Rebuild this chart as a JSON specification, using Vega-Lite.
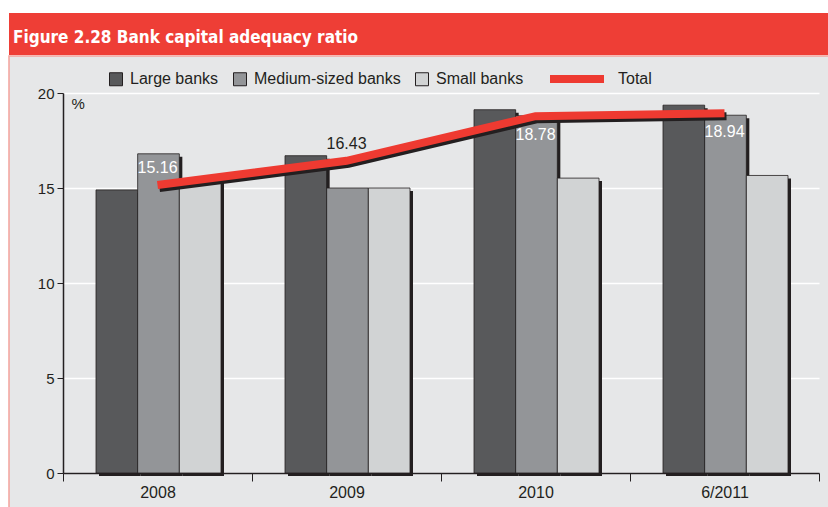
{
  "$schema": "https://vega.github.io/schema/vega-lite/v6.json",
  "background": "white",
  "padding": {"left": 8, "top": 13, "right": 0, "bottom": 0},
  "spacing": 0,
  "config": {
    "font": "Liberation Sans",
    "axis": {"labelColor": "#231f20", "titleColor": "#231f20"}
  },
  "resolve": {
    "scale": {"fill": "independent", "stroke": "independent", "color": "independent"},
    "legend": {"fill": "independent", "stroke": "independent", "color": "independent"}
  },
  "datasets": {
    "banks": [
      {"period": "2008", "type": "Large banks", "value": 14.9},
      {"period": "2008", "type": "Medium-sized banks", "value": 16.8},
      {"period": "2008", "type": "Small banks", "value": 15.5},
      {"period": "2009", "type": "Large banks", "value": 16.7},
      {"period": "2009", "type": "Medium-sized banks", "value": 15.0},
      {"period": "2009", "type": "Small banks", "value": 15.0},
      {"period": "2010", "type": "Large banks", "value": 19.12},
      {"period": "2010", "type": "Medium-sized banks", "value": 18.8},
      {"period": "2010", "type": "Small banks", "value": 15.52},
      {"period": "6/2011", "type": "Large banks", "value": 19.36},
      {"period": "6/2011", "type": "Medium-sized banks", "value": 18.83},
      {"period": "6/2011", "type": "Small banks", "value": 15.66}
    ],
    "total": [
      {"period": "2008", "total": 15.16},
      {"period": "2009", "total": 16.43},
      {"period": "2010", "total": 18.78},
      {"period": "6/2011", "total": 18.94}
    ]
  },
  "vconcat": [
    {
      "width": 820,
      "height": 42,
      "view": {"fill": "#ee3e36", "stroke": null},
      "title": {
        "text": "Figure 2.28 Bank capital adequacy ratio",
        "orient": "bottom",
        "anchor": "start",
        "frame": "group",
        "offset": -12,
        "baseline": "alphabetic",
        "dx": 4,
        "color": "white",
        "font": "'DejaVu Sans Condensed', 'Liberation Sans', sans-serif",
        "fontSize": 17,
        "fontWeight": "bold"
      },
      "data": {"values": [{"t": ""}]},
      "mark": {"type": "text"},
      "encoding": {"text": {"value": ""}}
    },
    {
      "width": 820,
      "height": 452,
      "view": {"fill": "#e6e7e8", "stroke": "#f4a29c", "strokeWidth": 1.5},
      "resolve": {"scale": {"xOffset": "independent"}},
      "layer": [
        {
          "data": {"name": "banks"},
          "mark": {"type": "bar", "color": "#231f20", "yOffset": 3, "y2Offset": 3},
          "encoding": {
            "x": {
              "field": "period", "type": "nominal",
              "sort": ["2008", "2009", "2010", "6/2011"],
              "scale": {"range": [54, 810], "paddingInner": 0, "paddingOuter": 0},
              "axis": {
                "orient": "bottom", "offset": -35, "title": null, "labelAngle": 0,
                "tickBand": "extent", "tickSize": 8, "tickColor": "#231f20", "tickWidth": 1,
                "domainColor": "#231f20", "domainWidth": 1.5,
                "labelFontSize": 16, "labelPadding": 3, "grid": false
              }
            },
            "xOffset": {
              "field": "type", "type": "nominal",
              "sort": ["Large banks", "Medium-sized banks", "Small banks"],
              "scale": {"range": [36, 161], "paddingInner": 0, "paddingOuter": 0}
            },
            "y": {
              "field": "value", "type": "quantitative",
              "scale": {"domain": [0, 20], "range": [417, 37], "nice": false},
              "axis": {
                "orient": "left", "offset": -54, "values": [0, 5, 10, 15, 20],
                "tickSize": 6, "tickColor": "#231f20", "tickWidth": 1,
                "domainColor": "#231f20", "domainWidth": 1.5,
                "grid": true, "gridColor": "white", "gridWidth": 1.5,
                "labelFontSize": 15, "labelPadding": 3,
                "title": "%", "titleAngle": 0, "titleX": 8, "titleY": 52,
                "titleAlign": "left", "titleBaseline": "alphabetic",
                "titleFontWeight": "normal", "titleFontSize": 15
              }
            }
          }
        },
        {
          "data": {"name": "banks"},
          "mark": {"type": "bar", "stroke": "#231f20", "strokeWidth": 0.8},
          "encoding": {
            "x": {"field": "period", "type": "nominal", "sort": ["2008", "2009", "2010", "6/2011"]},
            "xOffset": {
              "field": "type", "type": "nominal",
              "sort": ["Large banks", "Medium-sized banks", "Small banks"],
              "scale": {"range": [33, 158], "paddingInner": 0, "paddingOuter": 0}
            },
            "y": {"field": "value", "type": "quantitative"},
            "fill": {
              "field": "type", "type": "nominal",
              "scale": {
                "domain": ["Large banks", "Medium-sized banks", "Small banks"],
                "range": ["#58595b", "#939598", "#d1d3d4"]
              },
              "legend": {
                "orient": "none", "legendX": 99, "legendY": 15, "direction": "horizontal",
                "title": null, "symbolType": "square", "symbolSize": 169,
                "symbolStrokeColor": "#231f20", "symbolStrokeWidth": 1,
                "labelFontSize": 16, "labelColor": "#231f20", "labelOffset": 6,
                "columnPadding": 12, "padding": 0
              }
            }
          }
        },
        {
          "data": {"name": "total"},
          "mark": {"type": "line", "color": "#231f20", "strokeWidth": 8, "xOffset": 2, "yOffset": 3, "strokeCap": "butt"},
          "encoding": {
            "x": {"field": "period", "type": "nominal", "sort": ["2008", "2009", "2010", "6/2011"]},
            "y": {"field": "total", "type": "quantitative"}
          }
        },
        {
          "data": {"name": "total"},
          "mark": {"type": "line", "strokeWidth": 8, "strokeCap": "butt"},
          "encoding": {
            "x": {"field": "period", "type": "nominal", "sort": ["2008", "2009", "2010", "6/2011"]},
            "y": {"field": "total", "type": "quantitative"},
            "stroke": {
              "datum": "Total",
              "scale": {"range": ["#ee3a31"]},
              "legend": {
                "orient": "none", "legendX": 560, "legendY": 15,
                "title": null, "symbolType": "M-6.75,0H6.75", "symbolSize": 64,
                "symbolStrokeWidth": 8,
                "labelFontSize": 16, "labelColor": "#231f20", "labelOffset": 33, "padding": 0
              }
            }
          }
        },
        {
          "data": {"name": "total"},
          "transform": [{"filter": "datum.period === '2008' || datum.period === '2009'"}],
          "mark": {"type": "text", "dy": -17, "fontSize": 16},
          "encoding": {
            "x": {"field": "period", "type": "nominal", "sort": ["2008", "2009", "2010", "6/2011"]},
            "y": {"field": "total", "type": "quantitative"},
            "text": {"field": "total", "type": "quantitative", "format": ".2f"},
            "color": {"condition": {"test": "datum.period === '2009'", "value": "#231f20"}, "value": "white"}
          }
        },
        {
          "data": {"name": "total"},
          "transform": [{"filter": "datum.period === '2010' || datum.period === '6/2011'"}],
          "mark": {"type": "text", "dy": 19, "fontSize": 16, "color": "white"},
          "encoding": {
            "x": {"field": "period", "type": "nominal", "sort": ["2008", "2009", "2010", "6/2011"]},
            "y": {"field": "total", "type": "quantitative"},
            "text": {"field": "total", "type": "quantitative", "format": ".2f"}
          }
        }
      ]
    }
  ]
}
